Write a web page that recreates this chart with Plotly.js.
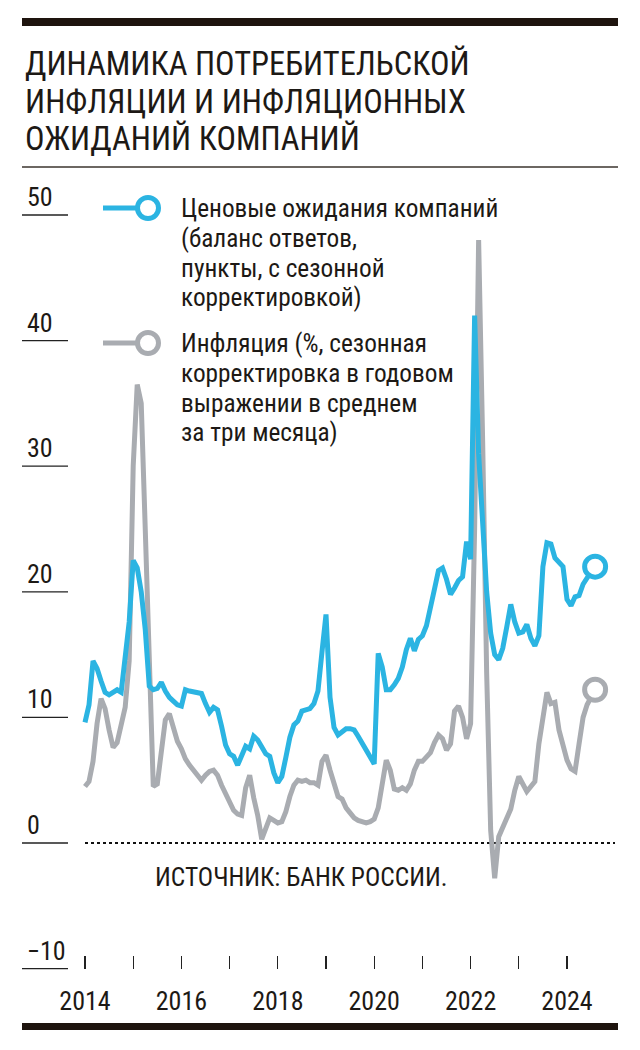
<!DOCTYPE html>
<html>
<head>
<meta charset="utf-8">
<script src="https://cdn.plot.ly/plotly-3.0.1.min.js"></script>
<style>
html,body{margin:0;padding:0;background:#fff;}
#chart{width:640px;height:1050px;}
</style>
</head>
<body>
<div id="chart"></div>
<script>
// ---------- DATA ----------
const startYear = 2014; // first observation: January 2014, monthly
const expectations = [
  9.6, 11.0, 14.5, 13.9, 12.9, 12.0, 11.8, 12.0, 12.2, 12.0, 14.6, 17.6,
  22.5, 21.9, 20.0, 17.0, 12.5, 12.2, 12.3, 12.8, 12.1, 11.6, 11.3, 11.0,
  10.9, 12.2, 12.1, 12.0, 11.9, 11.9, 11.1, 10.4, 10.8, 10.6, 9.3, 7.8,
  7.1, 6.9, 6.2, 7.0, 7.7, 7.5, 8.5, 8.2, 7.7, 7.1, 6.9, 5.6,
  4.8, 5.3, 6.8, 8.4, 9.4, 9.7, 10.5, 10.6, 10.7, 11.1, 12.1, 15.2,
  18.2, 11.6, 9.2, 8.6, 8.9, 9.1, 9.1, 9.0, 8.5, 7.9, 7.3, 6.7,
  6.3, 15.1, 14.0, 12.2, 12.2, 12.6, 13.1, 14.0, 15.4, 16.3, 15.3, 16.2,
  16.5, 17.3, 19.0, 20.2, 21.7, 21.9, 21.0, 19.8, 20.3, 20.9, 21.2, 24.0,
  22.6, 42.0, 31.0, 25.3, 20.0, 16.7, 15.0, 14.6, 15.5, 17.2, 19.0, 17.6,
  16.7, 16.8, 17.4, 16.3, 15.7, 16.5, 22.0, 23.9, 23.8, 22.7, 22.4, 22.0,
  19.4, 18.9, 19.6, 19.7, 20.6, 21.2, 21.6, 22.0
];
const inflation = [
  4.5, 4.9, 6.5, 9.5, 11.5, 10.7, 9.0, 7.6, 8.0, 9.3, 10.8, 14.5,
  30.0, 36.5, 35.0, 25.0, 13.0, 4.5, 4.7, 7.5, 9.8, 10.3, 9.3, 8.1,
  7.5, 6.7, 6.2, 5.8, 5.3, 5.0, 5.4, 5.7, 5.8, 5.4, 4.6, 3.9,
  3.3, 2.6, 2.3, 2.2, 4.4, 5.4, 3.6, 2.2, 0.3, 1.3, 2.0, 1.8,
  1.6, 1.7, 2.5, 3.7, 4.6, 5.0, 4.9, 5.0, 4.8, 4.8, 4.6, 6.5,
  7.0, 5.8, 4.6, 3.7, 3.5, 2.8, 2.4, 2.0, 1.8, 1.7, 1.6, 1.7,
  1.9, 2.8, 5.0, 6.6, 5.8, 4.3, 4.2, 4.4, 4.2, 4.7, 5.8, 6.5,
  6.5, 6.8, 7.2, 8.0, 8.6, 8.3, 7.4, 7.9, 10.5, 10.9, 10.0, 8.3,
  9.5, 25.0, 48.0, 32.0, 13.5, 1.0, -2.8, 0.5, 1.2, 2.1, 2.7, 4.2,
  5.3, 4.7, 4.1, 4.5, 4.9, 7.9, 10.0, 12.0, 11.1, 11.2, 9.0, 7.7,
  6.6, 5.9, 5.7, 7.9, 10.0, 11.0, 11.7, 12.2
];
const yearTicks  = [2014, 2015, 2016, 2017, 2018, 2019, 2020, 2021, 2022, 2023, 2024];
const yearLabels = ['2014', '', '2016', '', '2018', '', '2020', '', '2022', '', '2024'];
const valueTicks  = [-10, 0, 10, 20, 30, 40, 50];
const valueLabels = ['\u221210', '0', '10', '20', '30', '40', '50'];
const titleLines = ['ДИНАМИКА ПОТРЕБИТЕЛЬСКОЙ', 'ИНФЛЯЦИИ И ИНФЛЯЦИОННЫХ', 'ОЖИДАНИЙ КОМПАНИЙ'];
const legendExpect = ['Ценовые ожидания компаний', '(баланс ответов,', 'пункты, с сезонной', 'корректировкой)'];
const legendInfl = ['Инфляция (%, сезонная', 'корректировка в годовом', 'выражении в среднем', 'за три месяца)'];
const sourceText = 'ИСТОЧНИК: БАНК РОССИИ.';

// ---------- STYLE / LAYOUT ----------
const W = 640, H = 1050;
const BLUE = '#2bb4e2', GRAY = '#a9acb1', INK = '#1d1915';
const FONT = "'Roboto Condensed', 'DejaVu Sans Condensed', sans-serif";
const px = x => x / W;
const py = y => 1 - y / H;

const x2014 = 85, pxPerYear = 48.2;     // pixel position of Jan 2014, pixels per year
const zeroPx = 843, pxPerUnit = 12.56;  // pixel position of 0, pixels per unit

const months = expectations.map((_, i) => startYear + i / 12);

const traces = [
  {x: months, y: inflation, type: 'scatter', mode: 'lines',
   line: {color: GRAY, width: 5, shape: 'linear'}, hoverinfo: 'skip'},
  {x: months, y: expectations, type: 'scatter', mode: 'lines',
   line: {color: BLUE, width: 5, shape: 'linear'}, hoverinfo: 'skip'},
  {x: [months[months.length - 1]], y: [inflation[inflation.length - 1]], type: 'scatter', mode: 'markers',
   marker: {size: 21, color: '#ffffff', line: {color: GRAY, width: 5}}, hoverinfo: 'skip'},
  {x: [months[months.length - 1]], y: [expectations[expectations.length - 1]], type: 'scatter', mode: 'markers',
   marker: {size: 21, color: '#ffffff', line: {color: BLUE, width: 5}}, hoverinfo: 'skip'}
];

const shapes = [
  {type: 'rect', xref: 'paper', yref: 'paper', x0: px(22), x1: px(618), y0: py(26), y1: py(18),
   fillcolor: '#1e140e', line: {width: 0}},
  {type: 'line', xref: 'paper', yref: 'paper', x0: px(22), x1: px(618), y0: py(167), y1: py(167),
   line: {color: '#3b342e', width: 1.5}},
  {type: 'rect', xref: 'paper', yref: 'paper', x0: px(22), x1: px(618), y0: py(1030), y1: py(1023),
   fillcolor: '#1e140e', line: {width: 0}},
  {type: 'line', xref: 'paper', yref: 'y', x0: px(85), x1: px(615), y0: 0, y1: 0, layer: 'below',
   line: {color: '#111', width: 2, dash: 'dot'}}
];
valueTicks.forEach(v => shapes.push({
  type: 'line', xref: 'paper', yref: 'y', x0: px(22), x1: px(68), y0: v, y1: v,
  line: {color: '#222', width: 1.3}
}));
// legend samples
[[208, BLUE], [343, GRAY]].forEach(([yy, c]) => {
  shapes.push({type: 'line', xref: 'paper', yref: 'paper', x0: px(103), x1: px(137), y0: py(yy), y1: py(yy),
    line: {color: c, width: 5}});
  shapes.push({type: 'circle', xref: 'paper', yref: 'paper', xsizemode: 'pixel', ysizemode: 'pixel',
    xanchor: px(148), yanchor: py(yy), x0: -10.5, x1: 10.5, y0: -10.5, y1: 10.5,
    fillcolor: '#ffffff', line: {color: c, width: 5}});
});

const annotations = [];
const titleY = [64, 102, 139];
titleLines.forEach((t, i) => annotations.push({
  text: t, xref: 'paper', yref: 'paper', x: px(23), y: py(titleY[i]), xanchor: 'left', yanchor: 'middle',
  showarrow: false, font: {family: FONT, size: 32.5, color: INK}
}));
const legExpY = [208, 238, 268, 297];
legendExpect.forEach((t, i) => annotations.push({
  text: t, xref: 'paper', yref: 'paper', x: px(179), y: py(legExpY[i]), xanchor: 'left', yanchor: 'middle',
  showarrow: false, font: {family: FONT, size: 25.3, color: INK}
}));
const legInfY = [343, 373, 403, 432];
legendInfl.forEach((t, i) => annotations.push({
  text: t, xref: 'paper', yref: 'paper', x: px(179), y: py(legInfY[i]), xanchor: 'left', yanchor: 'middle',
  showarrow: false, font: {family: FONT, size: 25.3, color: INK}
}));
valueTicks.forEach((v, i) => annotations.push({
  text: valueLabels[i], xref: 'paper', yref: 'y', x: px(25), y: v, xanchor: 'left', yanchor: 'bottom',
  yshift: 1, showarrow: false, font: {family: FONT, size: 26, color: INK}
}));
annotations.push({
  text: sourceText, xref: 'paper', yref: 'paper', x: px(301), y: py(877), xanchor: 'center', yanchor: 'middle',
  showarrow: false, font: {family: FONT, size: 25.5, color: INK}
});

const layout = {
  width: W, height: H,
  margin: {l: 0, r: 0, t: 0, b: 0, pad: 0},
  paper_bgcolor: '#ffffff', plot_bgcolor: 'rgba(0,0,0,0)',
  showlegend: false,
  font: {family: FONT, color: INK},
  xaxis: {
    range: [startYear - x2014 / pxPerYear, startYear + (W - x2014) / pxPerYear],
    tickmode: 'array', tickvals: yearTicks, ticktext: yearLabels,
    ticks: 'inside', ticklen: 13, tickwidth: 1.4, tickcolor: '#222',
    anchor: 'free', position: 1 - (zeroPx + 10 * pxPerUnit) / H,
    showgrid: false, zeroline: false, showline: false,
    ticklabelstandoff: 14,
    tickfont: {family: FONT, size: 26, color: INK}, fixedrange: true
  },
  yaxis: {
    range: [-(H - zeroPx) / pxPerUnit, zeroPx / pxPerUnit],
    visible: false, showgrid: false, zeroline: false, fixedrange: true
  },
  shapes: shapes,
  annotations: annotations
};

Plotly.newPlot('chart', traces, layout, {staticPlot: true, displayModeBar: false});
</script>
</body>
</html>
